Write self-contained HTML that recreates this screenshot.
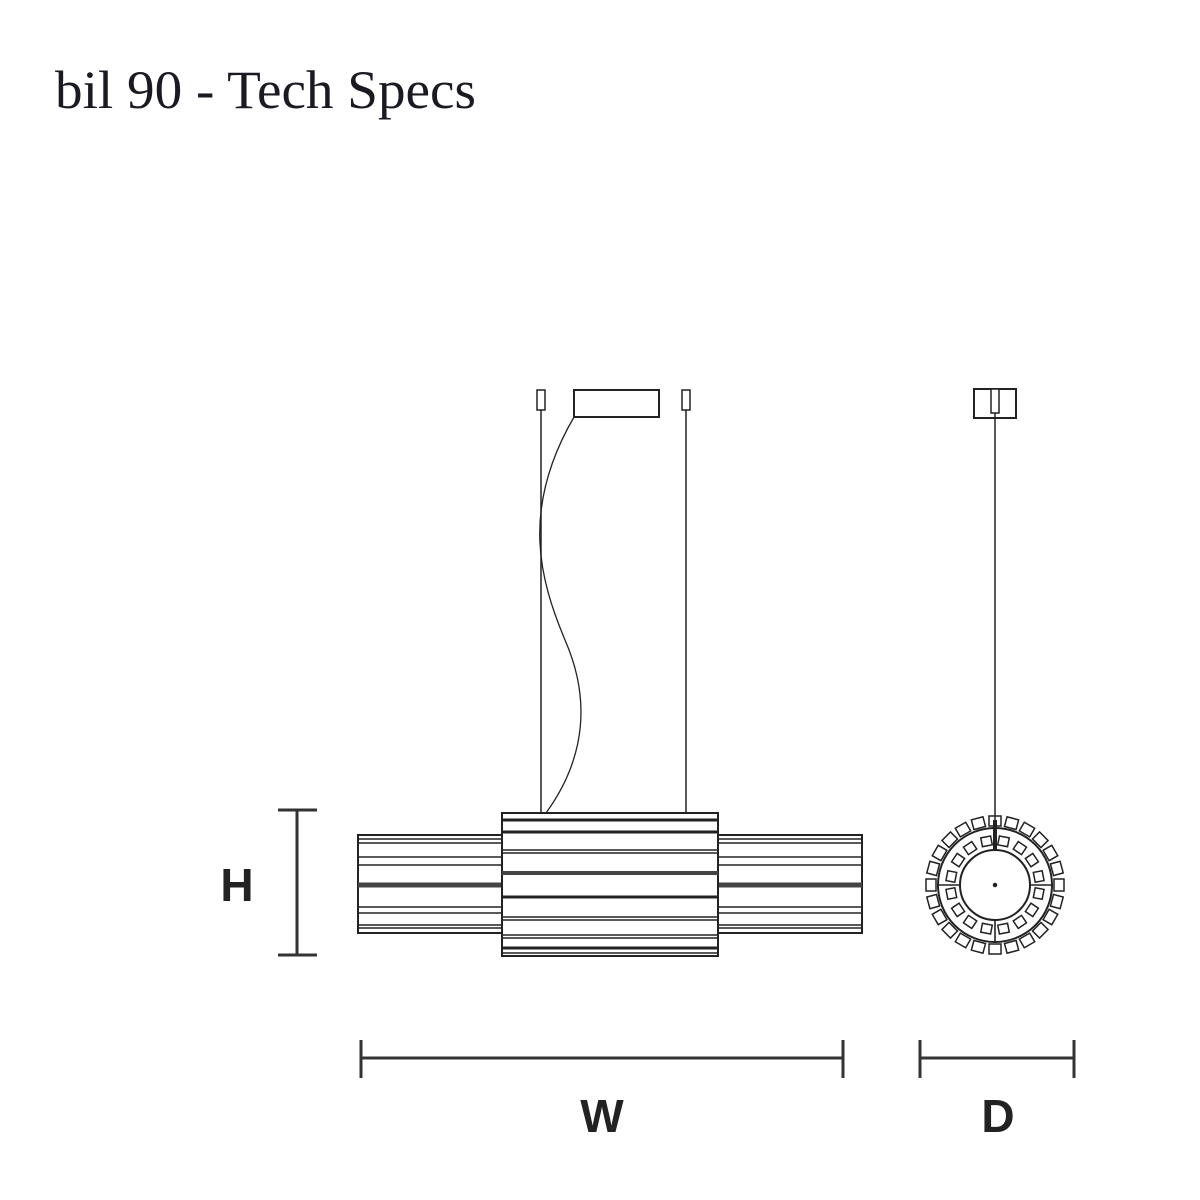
<!DOCTYPE html>
<html><head><meta charset="utf-8"><style>html,body{margin:0;padding:0;background:#fff}svg{display:block}</style></head><body>
<svg width="1200" height="1200" viewBox="0 0 1200 1200" xmlns="http://www.w3.org/2000/svg">
<text x="55" y="108" font-family="Liberation Serif, serif" font-size="54" fill="#1a1a22" textLength="421" lengthAdjust="spacingAndGlyphs">bil 90 - Tech Specs</text>
<g stroke="#222" fill="none" stroke-width="1.5">
<!-- hangers -->
<rect x="537" y="390" width="8" height="20" fill="#fff"/>
<rect x="682" y="390" width="8" height="20" fill="#fff"/>
<line x1="541" y1="410" x2="541" y2="813"/>
<line x1="686" y1="410" x2="686" y2="813"/>
<rect x="574" y="390" width="85" height="27" stroke-width="2"/>
<path d="M574 417 C 520 510, 540 580, 565 640 C 600 720, 570 780, 546 813" stroke-width="1.3"/>
<!-- side tubes -->
<rect x="358" y="835" width="504" height="98" stroke-width="2"/>
<g stroke-width="1.5">
<line x1="358" y1="839" x2="862" y2="839"/><line x1="358" y1="843" x2="862" y2="843"/>
<line x1="358" y1="857" x2="862" y2="857"/><line x1="358" y1="865" x2="862" y2="865"/>
<line x1="358" y1="907" x2="862" y2="907"/><line x1="358" y1="913" x2="862" y2="913"/>
<line x1="358" y1="925" x2="862" y2="925"/><line x1="358" y1="928" x2="862" y2="928"/>
</g>
<line x1="358" y1="885" x2="862" y2="885" stroke-width="5" stroke="#444"/>
<!-- center body -->
<rect x="502" y="813" width="216" height="143" fill="#fff" stroke-width="2"/>
<g stroke-width="1.5">
<line x1="502" y1="820" x2="718" y2="820" stroke-width="3"/>
<line x1="502" y1="832" x2="718" y2="832" stroke-width="3"/>
<line x1="502" y1="850" x2="718" y2="850"/><line x1="502" y1="853" x2="718" y2="853"/>
<line x1="502" y1="873" x2="718" y2="873" stroke-width="4" stroke="#444"/>
<line x1="502" y1="897" x2="718" y2="897" stroke-width="3"/>
<line x1="502" y1="917" x2="718" y2="917"/><line x1="502" y1="920" x2="718" y2="920"/>
<line x1="502" y1="935" x2="718" y2="935"/><line x1="502" y1="938" x2="718" y2="938"/>
<line x1="502" y1="948" x2="718" y2="948" stroke-width="3"/>
<line x1="502" y1="953" x2="718" y2="953"/>
</g>
<!-- side view -->
<rect x="974" y="389" width="42" height="29" stroke-width="2"/>
<rect x="991" y="389" width="8" height="24" fill="#fff"/>
<line x1="995" y1="413" x2="995" y2="850"/>
<line x1="995" y1="820" x2="995" y2="850" stroke-width="4"/>
<circle cx="995" cy="885" r="35" stroke-width="2"/>
<circle cx="995" cy="885" r="57" stroke-width="2"/>
<circle cx="995" cy="885" r="1.5" fill="#222"/>
<g stroke-width="1.6">
<line x1="938" y1="885" x2="960" y2="885"/><line x1="1030" y1="885" x2="1052" y2="885"/>
<line x1="995" y1="920" x2="995" y2="942"/>
</g>
<g id="outer" stroke-width="1.5">
<rect x="989" y="816" width="12" height="10" transform="rotate(0 995 885)"/>
<rect x="989" y="816" width="12" height="10" transform="rotate(15 995 885)"/>
<rect x="989" y="816" width="12" height="10" transform="rotate(30 995 885)"/>
<rect x="989" y="816" width="12" height="10" transform="rotate(45 995 885)"/>
<rect x="989" y="816" width="12" height="10" transform="rotate(60 995 885)"/>
<rect x="989" y="816" width="12" height="10" transform="rotate(75 995 885)"/>
<rect x="989" y="816" width="12" height="10" transform="rotate(90 995 885)"/>
<rect x="989" y="816" width="12" height="10" transform="rotate(105 995 885)"/>
<rect x="989" y="816" width="12" height="10" transform="rotate(120 995 885)"/>
<rect x="989" y="816" width="12" height="10" transform="rotate(135 995 885)"/>
<rect x="989" y="816" width="12" height="10" transform="rotate(150 995 885)"/>
<rect x="989" y="816" width="12" height="10" transform="rotate(165 995 885)"/>
<rect x="989" y="816" width="12" height="10" transform="rotate(180 995 885)"/>
<rect x="989" y="816" width="12" height="10" transform="rotate(195 995 885)"/>
<rect x="989" y="816" width="12" height="10" transform="rotate(210 995 885)"/>
<rect x="989" y="816" width="12" height="10" transform="rotate(225 995 885)"/>
<rect x="989" y="816" width="12" height="10" transform="rotate(240 995 885)"/>
<rect x="989" y="816" width="12" height="10" transform="rotate(255 995 885)"/>
<rect x="989" y="816" width="12" height="10" transform="rotate(270 995 885)"/>
<rect x="989" y="816" width="12" height="10" transform="rotate(285 995 885)"/>
<rect x="989" y="816" width="12" height="10" transform="rotate(300 995 885)"/>
<rect x="989" y="816" width="12" height="10" transform="rotate(315 995 885)"/>
<rect x="989" y="816" width="12" height="10" transform="rotate(330 995 885)"/>
<rect x="989" y="816" width="12" height="10" transform="rotate(345 995 885)"/>
</g>
<g stroke-width="1.5">
<rect x="990" y="836" width="10" height="9" transform="rotate(11 995 885)"/>
<rect x="990" y="836" width="10" height="9" transform="rotate(34 995 885)"/>
<rect x="990" y="836" width="10" height="9" transform="rotate(56 995 885)"/>
<rect x="990" y="836" width="10" height="9" transform="rotate(79 995 885)"/>
<rect x="990" y="836" width="10" height="9" transform="rotate(101 995 885)"/>
<rect x="990" y="836" width="10" height="9" transform="rotate(124 995 885)"/>
<rect x="990" y="836" width="10" height="9" transform="rotate(146 995 885)"/>
<rect x="990" y="836" width="10" height="9" transform="rotate(169 995 885)"/>
<rect x="990" y="836" width="10" height="9" transform="rotate(191 995 885)"/>
<rect x="990" y="836" width="10" height="9" transform="rotate(214 995 885)"/>
<rect x="990" y="836" width="10" height="9" transform="rotate(236 995 885)"/>
<rect x="990" y="836" width="10" height="9" transform="rotate(259 995 885)"/>
<rect x="990" y="836" width="10" height="9" transform="rotate(281 995 885)"/>
<rect x="990" y="836" width="10" height="9" transform="rotate(304 995 885)"/>
<rect x="990" y="836" width="10" height="9" transform="rotate(326 995 885)"/>
<rect x="990" y="836" width="10" height="9" transform="rotate(349 995 885)"/>
</g>
</g>
<!-- dimensions -->
<g stroke="#333" stroke-width="3" fill="none">
<line x1="297" y1="810" x2="297" y2="955"/>
<line x1="278" y1="810" x2="317" y2="810"/><line x1="278" y1="955" x2="317" y2="955"/>
<line x1="360" y1="1058" x2="844" y2="1058"/>
<line x1="361" y1="1040" x2="361" y2="1078"/><line x1="843" y1="1040" x2="843" y2="1078"/>
<line x1="919" y1="1058" x2="1075" y2="1058"/>
<line x1="920" y1="1040" x2="920" y2="1078"/><line x1="1074" y1="1040" x2="1074" y2="1078"/>
</g>
<g font-family="Liberation Sans, sans-serif" font-weight="bold" font-size="46" fill="#222" text-anchor="middle">
<text x="237" y="901">H</text>
<text x="602" y="1132">W</text>
<text x="998" y="1132">D</text>
</g>
</svg>
</body></html>
